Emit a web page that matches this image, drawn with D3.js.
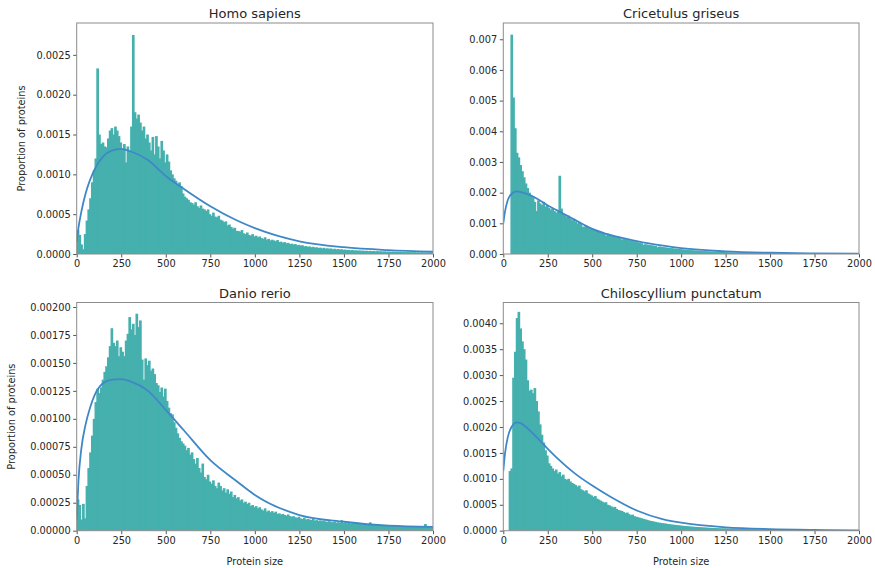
<!DOCTYPE html>
<html>
<head>
<meta charset="utf-8"/>
<title>Protein size distributions</title>
<script src="https://d3js.org/d3.v7.min.js"></script>
<style>
  body { margin: 0; background: #fff; }
  svg text { font-family: "DejaVu Sans", sans-serif; fill: #262626; }
  .tick text { font-size: 9.8px; }
  .title { font-size: 13px; }
  .lab { font-size: 9.8px; }
</style>
</head>
<body>
<svg id="chart" width="875" height="568"></svg>
<script>
// histogram heights, proportion of proteins x 1e6, bins of 10 aa from 0 to 2000
var binWidth = 10;

var homoBins = [
  300, 240, 120, 60, 250, 420, 560, 700, 900, 1050,
  1200, 2330, 1500, 1380, 1400, 1350, 1340, 1450, 1550, 1580,
  1500, 1600, 1550, 1480, 1400, 1320, 1380, 1150, 1350, 1300,
  1600, 2750, 1780, 1700, 1750, 1650, 1550, 1600, 1450, 1500,
  1400, 1300, 1470, 1250, 1480, 1350, 1200, 1420, 1300, 1150,
  1250, 1160, 1050, 1000, 950, 920, 880, 900, 850, 760,
  720, 700, 680, 650, 640, 620, 650, 600, 580, 610,
  570, 560, 540, 560, 500, 480, 520, 470, 460, 480,
  430, 420, 400, 410, 360, 370, 340, 320, 330, 290,
  290, 280, 300, 260, 250, 270, 240, 230, 250, 220,
  230, 210, 220, 200, 190, 210, 180, 190, 170, 180,
  170, 160, 175, 150, 155, 140, 150, 135, 140, 125,
  130, 120, 125, 110, 115, 105, 110, 95, 100, 90,
  95, 85, 90, 80, 85, 75, 80, 70, 78, 68,
  72, 65, 70, 60, 66, 58, 62, 55, 60, 52,
  55, 50, 52, 46, 50, 44, 47, 42, 45, 40,
  43, 38, 41, 36, 40, 35, 38, 33, 36, 32,
  35, 30, 33, 29, 31, 30, 28, 30, 26, 28,
  25, 27, 24, 26, 23, 25, 22, 24, 21, 23,
  20, 22, 19, 21, 20, 18, 20, 17, 19, 18
];

var cricetulusBins = [
  0, 0, 0, 0, 7150, 5100, 4100, 3300, 3150, 2900,
  2700, 2500, 2300, 2150, 2000, 1900, 1850, 1700, 1400, 1750,
  1650, 1600, 1700, 1550, 1600, 1500, 1450, 1500, 1400, 1350,
  1380, 2550, 1480, 1300, 1250, 1200, 1250, 1150, 1100, 1150,
  1050, 1000, 1050, 980, 880, 900, 920, 870, 850, 820,
  800, 780, 760, 740, 700, 720, 680, 600, 660, 620,
  600, 610, 570, 550, 560, 520, 470, 510, 480, 460,
  450, 440, 420, 410, 390, 380, 360, 350, 300, 320,
  310, 300, 290, 280, 270, 260, 220, 245, 235, 225,
  220, 210, 200, 195, 190, 180, 175, 170, 165, 160,
  150, 145, 140, 135, 130, 125, 120, 115, 112, 108,
  104, 100, 96, 92, 90, 86, 83, 80, 77, 74,
  71, 68, 66, 64, 62, 60, 58, 56, 54, 52,
  50, 48, 46, 45, 44, 42, 41, 40, 38, 37,
  36, 35, 34, 33, 32, 31, 30, 29, 28, 27,
  26, 25, 25, 24, 23, 23, 22, 21, 21, 20,
  20, 19, 18, 18, 17, 17, 16, 16, 15, 15,
  14, 14, 14, 13, 13, 12, 12, 12, 11, 11,
  11, 10, 10, 10, 9, 9, 9, 8, 8, 8,
  8, 7, 7, 7, 7, 6, 6, 6, 6, 6
];

var danioBins = [
  280, 230, 100, 240, 110, 400, 560, 700, 850, 1000,
  1150, 1270, 1230, 1280, 1350, 1420, 1470, 1550, 1650, 1810,
  1680, 1650, 1700, 1560, 1640, 1600, 1560, 1700, 1760, 1910,
  1800, 1850, 1750, 1940, 1820, 1880, 1530, 1350, 1540, 1480,
  1520, 1430, 1450, 1400, 1320, 1300, 1240, 1280, 1200, 1270,
  1160, 1100, 1050, 1040, 970, 920, 870, 830, 800, 780,
  760, 720, 740, 680, 700, 640, 600, 650, 560, 520,
  600, 480, 460, 500, 440, 420, 450, 400, 380, 430,
  400, 360, 380, 340, 370, 330, 350, 300, 320, 290,
  300, 270, 280, 250, 260, 240, 250, 220, 230, 210,
  220, 200, 210, 190, 180, 200, 170, 180, 165, 175,
  160, 170, 150, 155, 145, 150, 140, 135, 145, 130,
  125, 130, 120, 115, 125, 110, 105, 115, 100, 105,
  100, 95, 105, 90, 95, 88, 92, 85, 90, 82,
  80, 85, 78, 75, 82, 72, 76, 70, 95, 68,
  72, 66, 70, 64, 68, 62, 65, 60, 63, 58,
  60, 56, 58, 54, 75, 52, 55, 50, 53, 48,
  50, 47, 49, 45, 48, 44, 46, 43, 45, 42,
  43, 40, 42, 39, 41, 38, 40, 37, 39, 36,
  38, 35, 37, 34, 36, 60, 34, 33, 32, 30
];

var chiloBins = [
  0, 0, 0, 1150, 1200, 2950, 3450, 4100, 4220, 3900,
  3650, 3500, 3300, 2900, 2700, 2720, 2650, 2750, 2500, 2300,
  2050, 1850, 1700, 1550, 1450, 1300, 1250, 1200, 1150, 1180,
  1100, 1130, 1050, 1080, 1000, 980, 1000, 950, 920, 900,
  880, 850, 870, 800, 780, 760, 780, 720, 700, 680,
  650, 670, 620, 600, 580, 560, 540, 550, 500, 490,
  470, 450, 460, 420, 400, 390, 380, 360, 340, 350,
  320, 300, 310, 280, 270, 260, 250, 240, 230, 220,
  210, 200, 190, 185, 175, 170, 160, 155, 150, 145,
  140, 135, 130, 125, 120, 115, 112, 108, 104, 100,
  96, 92, 90, 86, 83, 80, 77, 74, 72, 70,
  68, 65, 63, 61, 59, 57, 55, 53, 52, 50,
  49, 47, 46, 45, 44, 42, 41, 40, 39, 38,
  37, 36, 35, 34, 34, 33, 32, 31, 31, 30,
  29, 29, 28, 28, 27, 27, 26, 26, 25, 25,
  24, 24, 23, 23, 22, 22, 22, 21, 21, 20,
  20, 20, 19, 19, 19, 18, 18, 18, 17, 17,
  17, 16, 16, 16, 15, 15, 15, 15, 14, 14,
  14, 14, 13, 13, 13, 13, 12, 12, 12, 12,
  12, 11, 11, 11, 11, 11, 10, 10, 10, 10
];

var fitX = [0, 10, 25, 50, 75, 100, 150, 200, 250, 300, 400, 500, 600, 750, 900, 1000, 1250, 1500, 1750, 2000];
var homoFit = [150, 330, 520, 760, 930, 1060, 1230, 1300, 1320, 1290, 1180, 980, 820, 600, 420, 325, 160, 85, 48, 28];
var cricetulusFit = [1000, 1400, 1750, 1980, 2040, 2020, 1920, 1770, 1580, 1430, 1120, 820, 620, 420, 270, 190, 85, 40, 20, 10];
var danioFit = [100, 450, 720, 950, 1100, 1210, 1320, 1350, 1355, 1335, 1250, 1080, 900, 630, 440, 320, 140, 80, 45, 35];
var chiloFit = [1150, 1500, 1800, 2020, 2090, 2070, 1930, 1760, 1580, 1410, 1110, 870, 660, 390, 220, 155, 65, 30, 15, 8];

var xTicks = [0, 250, 500, 750, 1000, 1250, 1500, 1750, 2000];
var homoTicks = [0, 0.0005, 0.001, 0.0015, 0.002, 0.0025];
var cricetulusTicks = [0, 0.001, 0.002, 0.003, 0.004, 0.005, 0.006, 0.007];
var danioTicks = [0, 0.00025, 0.0005, 0.00075, 0.001, 0.00125, 0.0015, 0.00175, 0.002];
var chiloTicks = [0, 0.0005, 0.001, 0.0015, 0.002, 0.0025, 0.003, 0.0035, 0.004];

var barColor = "#45b0ad";
var lineColor = "#3f88c8";

var panels = [
  {title: "Homo sapiens", bins: homoBins, fit: homoFit, ticks: homoTicks, fmt: ".4f", yMax: 0.0029,
   left: 76.7, top: 23, w: 356.3, h: 231, yLabelX: 21.5, showY: true, showX: false},
  {title: "Cricetulus griseus", bins: cricetulusBins, fit: cricetulusFit, ticks: cricetulusTicks, fmt: ".3f", yMax: 0.00753,
   left: 503.3, top: 23, w: 355.7, h: 231, showY: false, showX: false},
  {title: "Danio rerio", bins: danioBins, fit: danioFit, ticks: danioTicks, fmt: ".5f", yMax: 0.00204,
   left: 76.7, top: 302.5, w: 356.3, h: 228.2, yLabelX: 11.5, showY: true, showX: true},
  {title: "Chiloscyllium punctatum", bins: chiloBins, fit: chiloFit, ticks: chiloTicks, fmt: ".4f", yMax: 0.0044,
   left: 503.3, top: 302.5, w: 355.7, h: 228.2, showY: false, showX: true}
];

var svg = d3.select("#chart");

panels.forEach(function(p, k) {
  var g = svg.append("g").attr("transform", "translate(" + p.left + "," + p.top + ")");

  var x = d3.scaleLinear().domain([0, 2000]).range([0, p.w]);
  var y = d3.scaleLinear().domain([0, p.yMax]).range([p.h, 0]);

  g.append("clipPath").attr("id", "clip" + k)
    .append("rect").attr("width", p.w).attr("height", p.h);

  var plot = g.append("g").attr("clip-path", "url(#clip" + k + ")");

  // bars (a little overlap so no seams show between neighbours)
  plot.selectAll("rect.bar")
    .data(p.bins)
    .join("rect")
      .attr("class", "bar")
      .attr("x", function(d, i) { return x(i * binWidth); })
      .attr("width", x(binWidth) - x(0) + 0.9)
      .attr("y", function(d) { return y(d * 1e-6); })
      .attr("height", function(d) { return y(0) - y(d * 1e-6); })
      .attr("fill", barColor);

  // fitted curve
  var line = d3.line()
    .x(function(d) { return x(d[0]); })
    .y(function(d) { return y(d[1] * 1e-6); })
    .curve(d3.curveMonotoneX);

  plot.append("path")
    .datum(fitX.map(function(v, i) { return [v, p.fit[i]]; }))
    .attr("d", line)
    .attr("fill", "none")
    .attr("stroke", lineColor)
    .attr("stroke-width", 1.8);

  // axes
  var xAxis = g.append("g")
    .attr("transform", "translate(0," + p.h + ")")
    .call(d3.axisBottom(x).tickValues(xTicks).tickFormat(d3.format("d")).tickSize(3.5).tickPadding(2.5));
  var yAxis = g.append("g")
    .call(d3.axisLeft(y).tickValues(p.ticks).tickFormat(d3.format(p.fmt)).tickSize(3.5).tickPadding(2.5));

  [xAxis, yAxis].forEach(function(a) {
    a.select(".domain").remove();
    a.selectAll(".tick line").attr("stroke", "#555");
    a.selectAll(".tick text").attr("fill", "#222").style("font-family", "DejaVu Sans");
  });

  // frame
  g.append("rect")
    .attr("width", p.w).attr("height", p.h)
    .attr("fill", "none").attr("stroke", "#8c8c8c").attr("stroke-width", 1);

  g.append("text")
    .attr("class", "title")
    .attr("x", p.w / 2).attr("y", -5)
    .attr("text-anchor", "middle")
    .text(p.title);

  if (p.showY) {
    svg.append("text")
      .attr("class", "lab")
      .attr("transform", "translate(" + p.yLabelX + "," + (p.top + p.h / 2) + ") rotate(-90)")
      .attr("text-anchor", "middle")
      .attr("dy", "0.35em")
      .text("Proportion of proteins");
  }
  if (p.showX) {
    g.append("text")
      .attr("class", "lab")
      .attr("x", p.w / 2).attr("y", p.h + 34)
      .attr("text-anchor", "middle")
      .text("Protein size");
  }
});
</script>
</body>
</html>
